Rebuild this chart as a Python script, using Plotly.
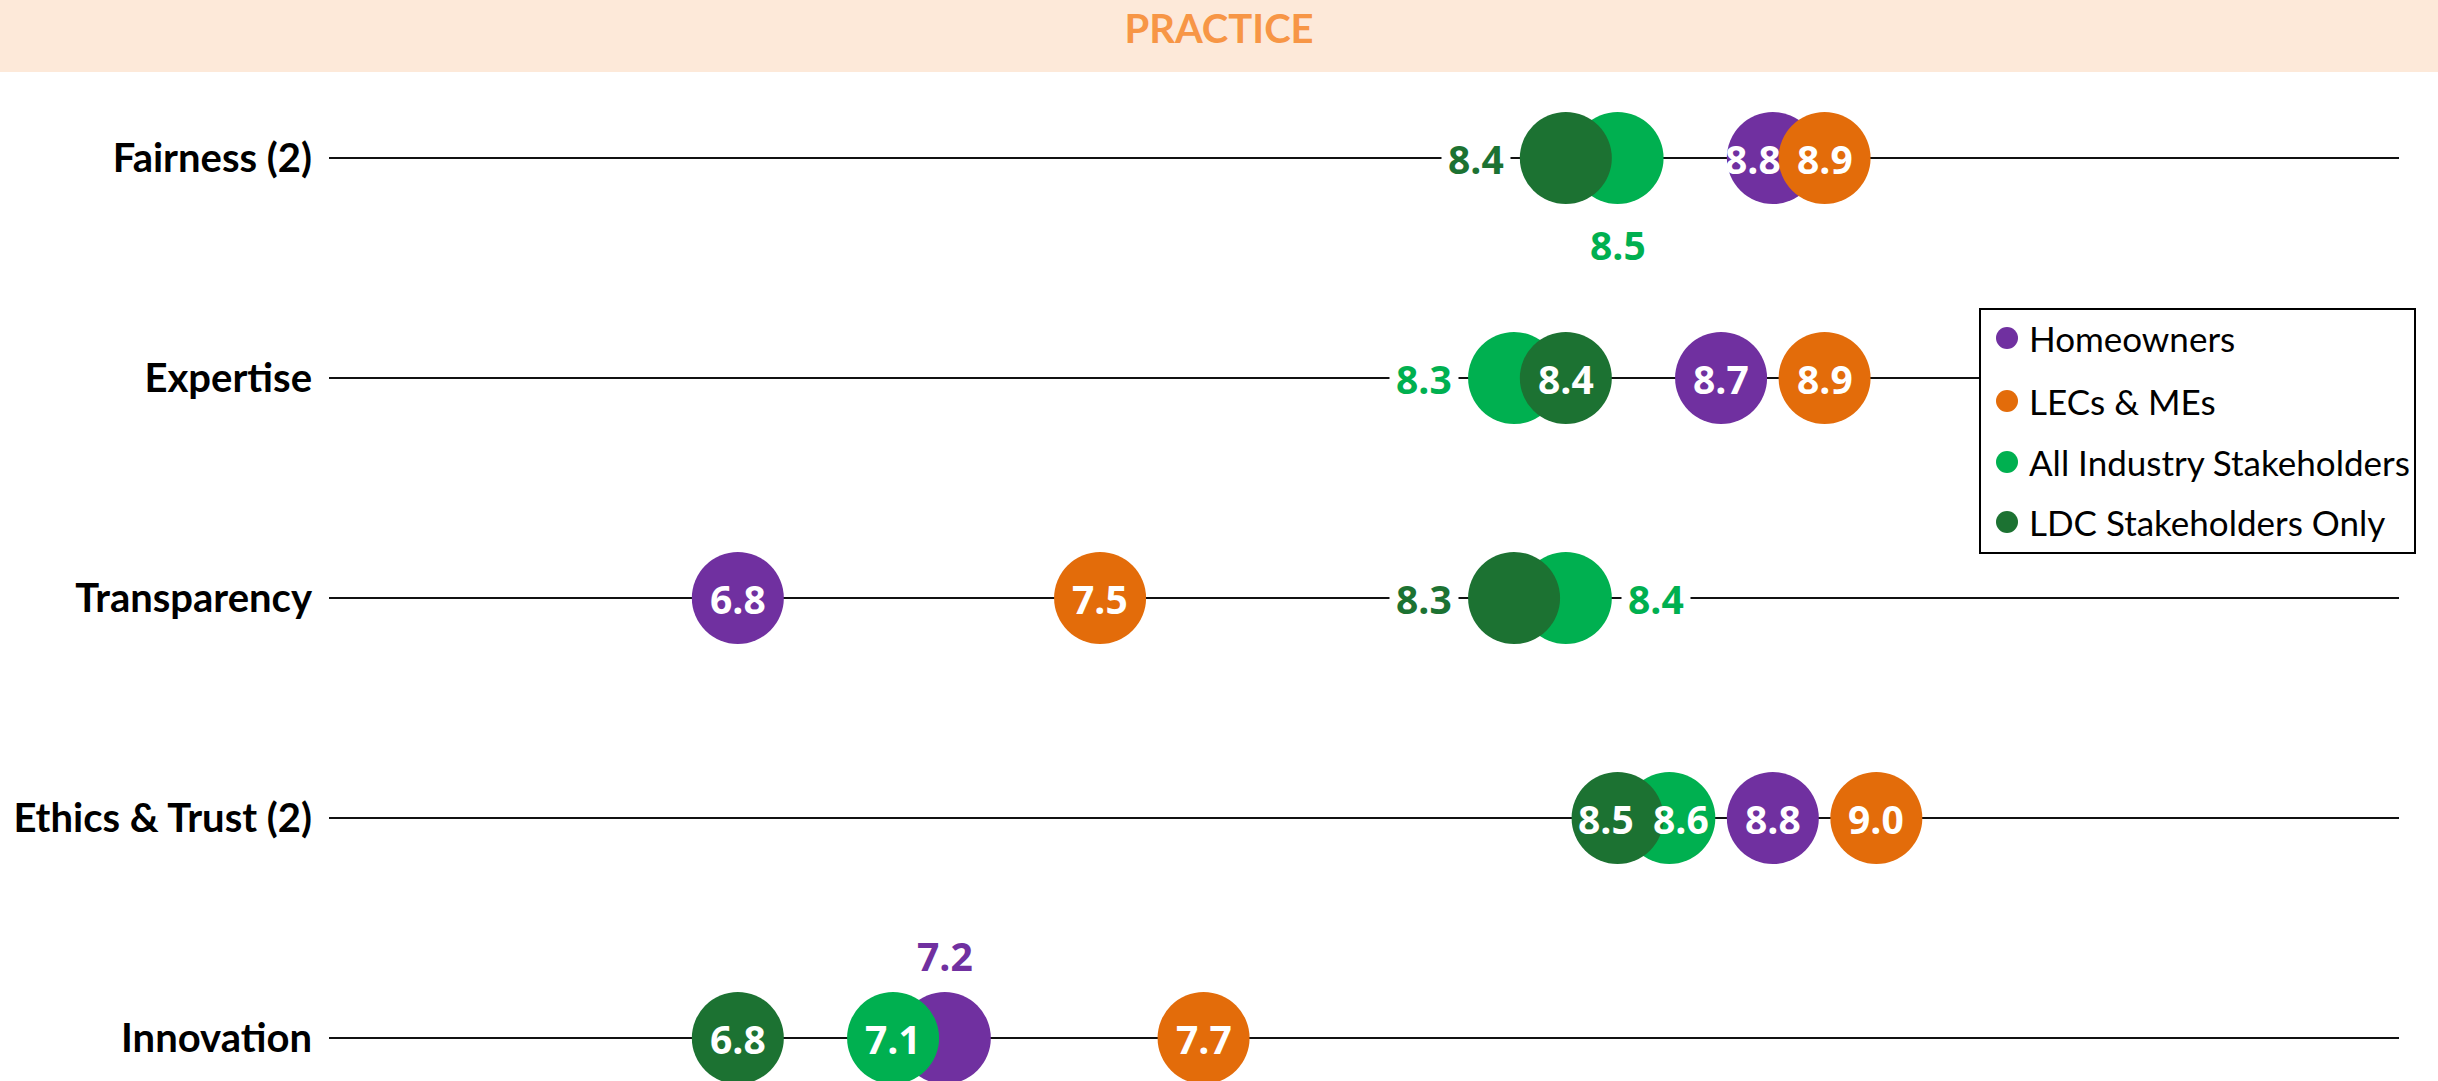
import plotly.graph_objects as go

# ---- data -------------------------------------------------------------
categories = ["Fairness (2)", "Expertise", "Transparency", "Ethics & Trust (2)", "Innovation"]
series_names = ["Homeowners", "LECs & MEs", "All Industry Stakeholders", "LDC Stakeholders Only"]
homeowners = [8.8, 8.7, 6.8, 8.8, 7.2]
lecs_mes = [8.9, 8.9, 7.5, 9.0, 7.7]
all_industry = [8.5, 8.3, 8.4, 8.6, 7.1]
ldc_only = [8.4, 8.4, 8.3, 8.5, 6.8]

series_values = [homeowners, lecs_mes, all_industry, ldc_only]
colors = ["#7030A0", "#E36C0A", "#00B050", "#1C7232"]

# scores whose bubble is covered by a neighbour get their label outside
outside_labels = {
    (0, 3): "left", (0, 2): "below",
    (1, 2): "left",
    (2, 3): "left", (2, 2): "right",
    (4, 0): "above",
}
# small horizontal nudges (px) for labels in crowded rows
label_nudge = {(0, 0): -20, (3, 3): -12, (3, 2): 12}

# ---- page geometry ----------------------------------------------------
W, H = 2438, 1081
ML, MR, MT, MB = 329, 39, 72, 0
PW, PH = W - ML - MR, H - MT - MB
ROW_PX = 220
n_rows = len(categories)
row_y = [n_rows - 1 - i for i in range(n_rows)]
y_top = (n_rows - 1) + (158 - MT) / ROW_PX
y_range = [y_top - PH / ROW_PX, y_top]
x_range = [6.01, 10.01]
BUBBLE = 92

NUM_FONT = "Open Sans"
TXT_FONT = "Lato"


def fx(px):
    return (px - ML) / PW


def fy(py):
    return (H - py) / PH


fig = go.Figure()
shapes = []
annotations = []

for s, vals in enumerate(series_values):
    fig.add_trace(go.Scatter(
        x=vals, y=row_y, mode="markers",
        marker=dict(size=BUBBLE, color=colors[s], line=dict(width=0)),
        name=series_names[s], showlegend=False, hoverinfo="skip",
    ))

for s, vals in enumerate(series_values):
    for i, v in enumerate(vals):
        pos = outside_labels.get((i, s))
        ann = dict(x=v, y=row_y[i], xref="x", yref="y", showarrow=False,
                   text=f"{v:.1f}", xshift=label_nudge.get((i, s), 0),
                   font=dict(family=NUM_FONT, size=39, weight=700, color="white"))
        if pos is not None:
            ann["font"]["color"] = colors[s]
            ann["bgcolor"] = "white"
            ann["borderpad"] = 6
            if pos == "left":
                ann["xshift"] = -90
            elif pos == "right":
                ann["xshift"] = 90
            elif pos == "below":
                ann["yshift"] = -86
            elif pos == "above":
                ann["yshift"] = 83
        annotations.append(ann)

# header band
shapes.append(dict(type="rect", xref="paper", yref="paper", layer="below",
                   x0=fx(0), x1=fx(W), y0=fy(MT), y1=fy(0),
                   fillcolor="#FDE9D9", line=dict(width=0)))

# legend box
shapes.append(dict(type="rect", xref="paper", yref="paper", layer="above",
                   x0=fx(1980), x1=fx(2415), y0=fy(553), y1=fy(309),
                   fillcolor="white", line=dict(color="black", width=2)))
legend_rows = [338, 401, 462, 522]
for s, cy in enumerate(legend_rows):
    shapes.append(dict(type="circle", xref="paper", yref="paper", layer="above",
                       xsizemode="pixel", ysizemode="pixel",
                       xanchor=fx(2007), yanchor=fy(cy),
                       x0=-11, x1=11, y0=-11, y1=11,
                       fillcolor=colors[s], line=dict(width=0)))
    annotations.append(dict(x=fx(2027), y=fy(cy), xref="paper", yref="paper",
                            xanchor="left", yanchor="middle", showarrow=False,
                            text=series_names[s],
                            font=dict(family=TXT_FONT, size=35, color="black")))

fig.update_layout(
    width=W, height=H,
    margin=dict(l=ML, r=MR, t=MT, b=MB, pad=0),
    paper_bgcolor="white", plot_bgcolor="white",
    title=dict(text="PRACTICE", x=0.5, xref="container", xanchor="center",
               y=1 - 28.5 / H, yref="container", yanchor="middle",
               font=dict(family=TXT_FONT, size=40, weight=700, color="#F79646")),
    xaxis=dict(range=x_range, visible=False, fixedrange=True),
    yaxis=dict(range=y_range, tickvals=row_y, ticktext=categories,
               tickfont=dict(family=TXT_FONT, size=40, weight=700, color="black"),
               ticklabelstandoff=16, ticks="",
               showgrid=True, gridcolor="#111111", gridwidth=2,
               zeroline=False, showline=False, fixedrange=True),
    shapes=shapes, annotations=annotations,
    showlegend=False, hovermode=False,
)

fig.write_html("out.html")
